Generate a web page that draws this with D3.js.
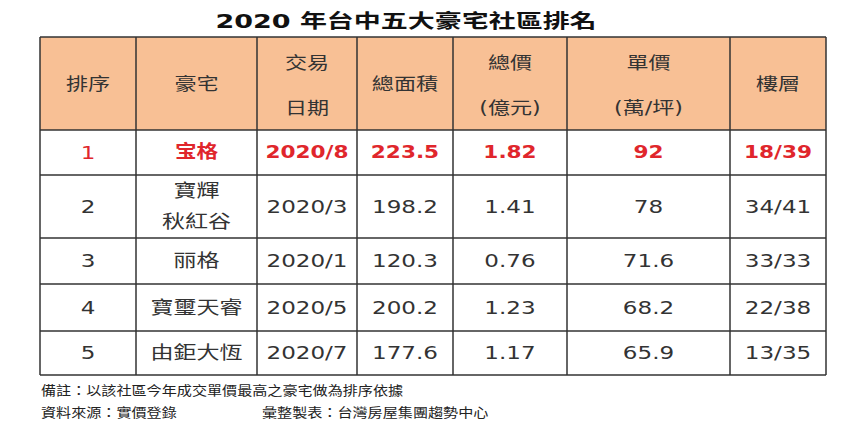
<!DOCTYPE html>
<html><head><meta charset="utf-8">
<script src="https://cdn.jsdelivr.net/npm/d3@7"></script>
<style>
html,body{margin:0;padding:0;background:#fff;}
svg{display:block;}
text{font-family:"DejaVu Sans","Noto Sans CJK TC",sans-serif;}
</style></head>
<body>
<svg id="c" width="850" height="430"></svg>
<script>
const title = "2020 年台中五大豪宅社區排名";
const headers = [["排序"],["豪宅"],["交易","日期"],["總面積"],["總價","(億元)"],["單價","(萬/坪)"],["樓層"]];
const ranks = ["1","2","3","4","5"];
const names = [["宝格"],["寶輝","秋紅谷"],["丽格"],["寶璽天睿"],["由鉅大恆"]];
const dates = ["2020/8","2020/3","2020/1","2020/5","2020/7"];
const areas = ["223.5","198.2","120.3","200.2","177.6"];
const totals = ["1.82","1.41","0.76","1.23","1.17"];
const unitPrices = ["92","78","71.6","68.2","65.9"];
const floors = ["18/39","34/41","33/33","22/38","13/35"];
const notes = ["備註：以該社區今年成交單價最高之豪宅做為排序依據","資料來源：實價登錄","彙整製表：台灣房屋集團趨勢中心"];

// layout
const colEdges = [40,136,257,357,453,567,730,826];
const rowEdges = [37,130,175,238,284,331,375];
const svg = d3.select("#c");
const colMid = i => (colEdges[i]+colEdges[i+1])/2;
const rowMid = i => (rowEdges[i]+rowEdges[i+1])/2;

// header background
svg.append("rect").attr("x",colEdges[0]).attr("y",rowEdges[0])
  .attr("width",colEdges[7]-colEdges[0]).attr("height",rowEdges[1]-rowEdges[0])
  .attr("fill","#F8C095");

function txt(g, x, y, s, size, sx, opts={}){
  return g.append("text")
    .attr("transform",`translate(${x},${y}) scale(${sx},1)`)
    .attr("text-anchor",opts.anchor||"middle")
    .attr("dominant-baseline","central")
    .attr("font-size",size)
    .attr("font-weight",opts.weight||"normal")
    .attr("fill",opts.fill||"#333")
    .text(s);
}

// title
txt(svg, 406, 21, title, 19, 1.42, {weight:"bold", fill:"#111"});

// headers
headers.forEach((h,i)=>{
  const cx = colMid(i);
  if(h.length===1) txt(svg, cx, 84, h[0], 17, 1.3);
  else { txt(svg, cx, 63, h[0], 17, 1.3); txt(svg, cx, 108, h[1], 17, 1.3); }
});

// body
const rows = ranks.map((r,i)=>[[r],names[i],[dates[i]],[areas[i]],[totals[i]],[unitPrices[i]],[floors[i]]]);
rows.forEach((row,ri)=>{
  const cy = rowMid(ri+1);
  const first = ri===0;
  row.forEach((cell,ci)=>{
    const bold = first && ci>0;
    const opts = first ? {fill:"#E0262C", weight: bold?"bold":"normal"} : {fill:"#333"};
    const sx = bold ? 1.2 : 1.28;
    const cx = colMid(ci);
    if(cell.length===1) txt(svg, cx, cy, cell[0], 18, sx, opts);
    else {
      txt(svg, cx, cy-15.5, cell[0], 18, sx, opts);
      txt(svg, cx, cy+15.5, cell[1], 18, sx, opts);
    }
  });
});

// grid lines
const grid = svg.append("g").attr("stroke","#333").attr("stroke-width",1.5);
colEdges.forEach(xv=>grid.append("line").attr("x1",xv).attr("x2",xv).attr("y1",rowEdges[0]).attr("y2",rowEdges[rowEdges.length-1]));
rowEdges.forEach(yv=>grid.append("line").attr("x1",colEdges[0]).attr("x2",colEdges[7]).attr("y1",yv).attr("y2",yv));

// notes
txt(svg, 41, 390, notes[0], 12.8, 1.18, {anchor:"start", fill:"#222"});
txt(svg, 41, 412, notes[1], 12.8, 1.18, {anchor:"start", fill:"#222"});
txt(svg, 262, 412, notes[2], 12.8, 1.18, {anchor:"start", fill:"#222"});
</script>
</body></html>
